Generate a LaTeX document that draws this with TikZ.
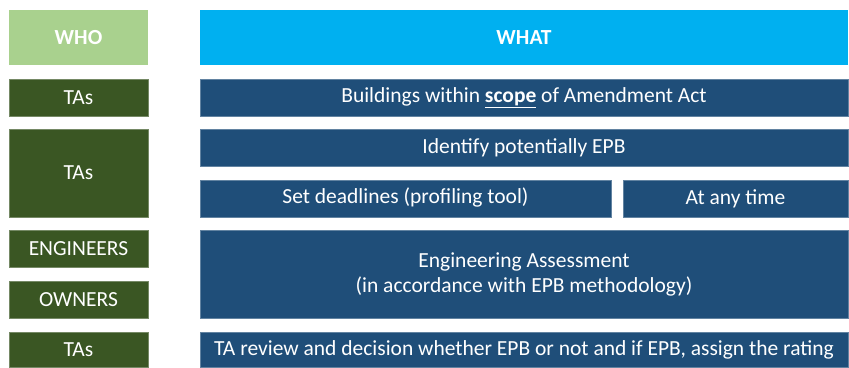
\documentclass[tikz,border=0pt]{standalone}
\usepackage{fontspec}
\setmainfont{Carlito}
\definecolor{whohead}{HTML}{A9D18E}
\definecolor{whathead}{HTML}{00B0F0}
\definecolor{whobox}{HTML}{3A5623}
\definecolor{whatbox}{HTML}{1F4E79}
\begin{document}
\begin{tikzpicture}[x=1pt,y=-1pt,
  cell/.style={rectangle, inner sep=0pt, text=white, font=\fontsize{21.5}{25}\selectfont, align=center},
  whocell/.style={cell, fill=whobox, draw=whobox!70!white, line width=0.6pt, minimum width=139pt},
  whatcell/.style={cell, fill=whatbox, draw=whatbox!70!white, line width=0.6pt},
  headcell/.style={cell, font=\fontsize{21.5}{25}\selectfont\bfseries, minimum height=55pt}]
\useasboundingbox (0,0) rectangle (849,367);
% header row
\node[headcell, fill=whohead, minimum width=139pt] (who) at (78.5,37.5) {WHO};
\node[headcell, fill=whathead, minimum width=648pt] (what) at (524,37.5) {WHAT};
% who column
\node[whocell, minimum height=37pt] (tas1) at (78.5,97.5) {TAs};
\node[whocell, minimum height=88pt] (tas2) at (78.5,173) {TAs};
\node[whocell, minimum height=37pt] (eng) at (78.5,248.5) {ENGINEERS};
\node[whocell, minimum height=37pt] (own) at (78.5,299.5) {OWNERS};
\node[whocell, minimum height=35pt] (tas3) at (78.5,349.5) {TAs};
% what column
\node[whatcell, minimum width=648pt, minimum height=37pt] (scope) at (524,97.5)
  {Buildings within \underline{\textbf{scope}} of Amendment Act};
\node[whatcell, minimum width=648pt, minimum height=37pt] (identify) at (524,147.5)
  {\raisebox{2pt}{Identify potentially EPB}};
\node[whatcell, minimum width=411pt, minimum height=37pt] (deadlines) at (405.5,198.5)
  {\raisebox{5pt}{Set deadlines (profiling tool)}};
\node[whatcell, minimum width=225pt, minimum height=37pt] (anytime) at (735.5,198.5)
  {At any time};
\node[whatcell, minimum width=648pt, minimum height=88pt] (assess) at (524,274)
  {Engineering Assessment\\(in accordance with EPB methodology)};
\node[whatcell, minimum width=648pt, minimum height=35pt] (review) at (524,349.5)
  {TA review and decision whether EPB or not and if EPB, assign the rating};
\end{tikzpicture}
\end{document}
